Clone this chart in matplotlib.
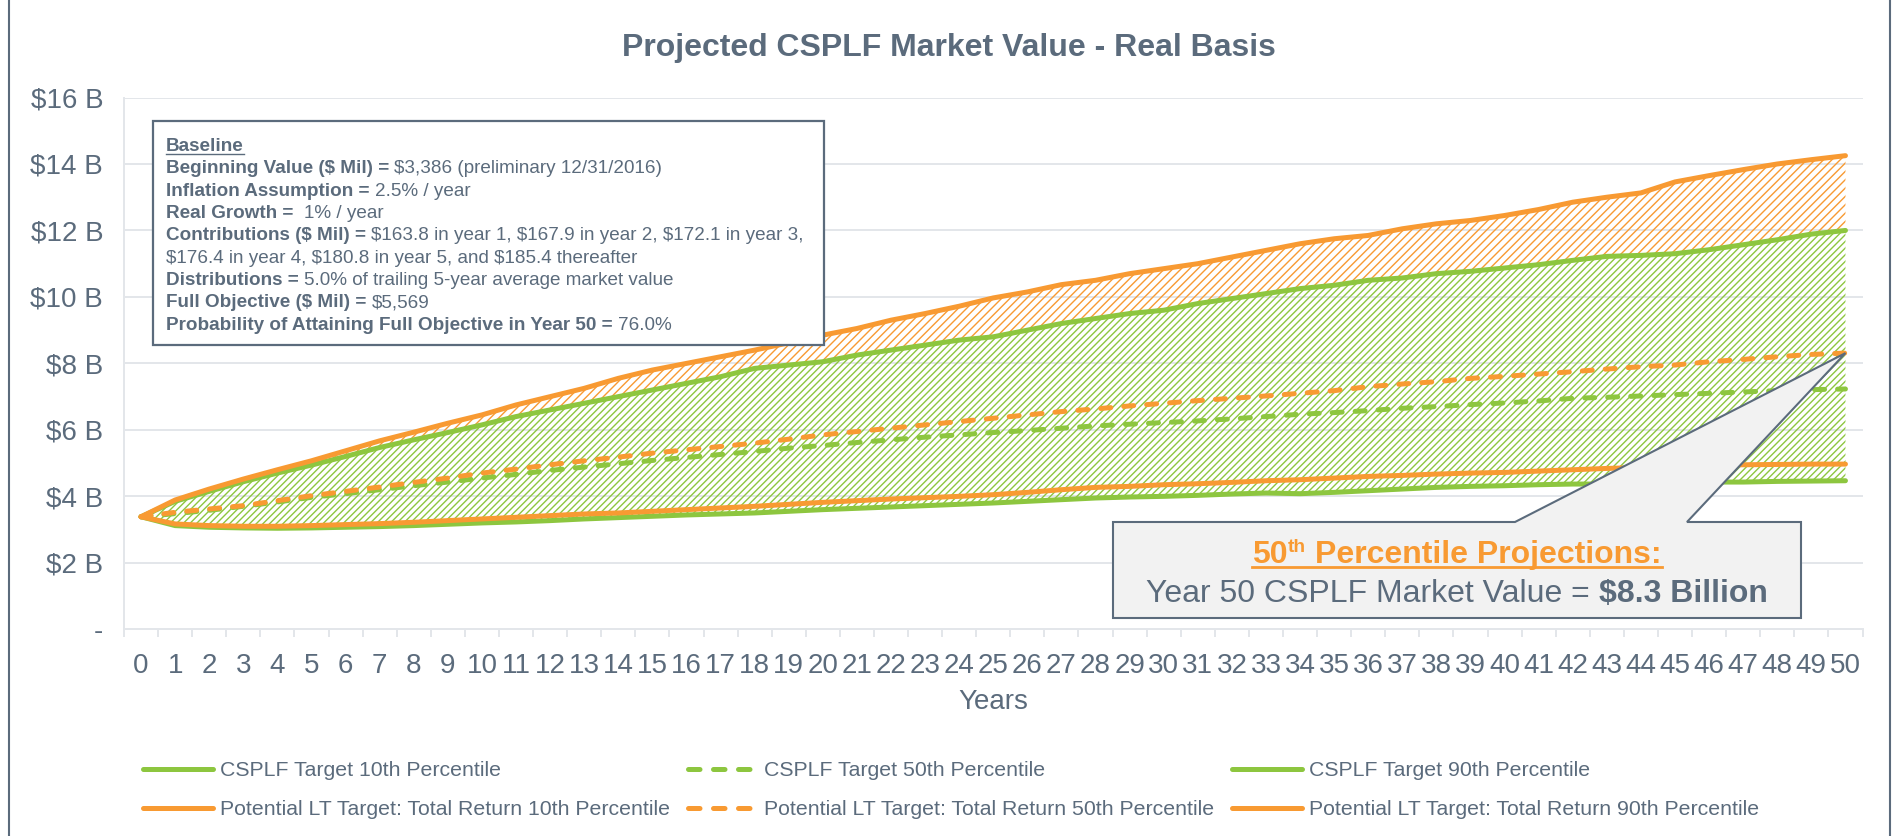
import matplotlib
matplotlib.use('Agg')
import matplotlib.pyplot as plt
from matplotlib.lines import Line2D
from matplotlib.patches import Polygon, Rectangle
from matplotlib.transforms import IdentityTransform

plt.rcParams['font.family'] = ['Liberation Sans', 'DejaVu Sans']
plt.rcParams['hatch.linewidth'] = 1.0

W, H = 1894, 836
SLATE = '#5B6B7C'
GREEN = '#8DC63F'
ORANGE = '#F89A32'
GRID = '#E3E6EA'

# data ($ billions, real basis)
years = list(range(51))
cs_p10 = [3.386, 3.12, 3.07, 3.05, 3.04, 3.05, 3.07, 3.09, 3.12, 3.16,
          3.20, 3.23, 3.27, 3.32, 3.36, 3.40, 3.44, 3.47, 3.50, 3.55,
          3.60, 3.64, 3.68, 3.72, 3.76, 3.80, 3.85, 3.90, 3.95, 3.98,
          4.00, 4.03, 4.07, 4.10, 4.08, 4.12, 4.17, 4.22, 4.27, 4.30,
          4.32, 4.35, 4.37, 4.37, 4.38, 4.42, 4.43, 4.43, 4.45, 4.46, 4.47]
cs_p50 = [3.386, 3.48, 3.58, 3.70, 3.83, 3.97, 4.08, 4.20, 4.32, 4.43,
          4.55, 4.66, 4.78, 4.88, 4.98, 5.08, 5.17, 5.26, 5.35, 5.45,
          5.53, 5.62, 5.70, 5.78, 5.85, 5.92, 5.98, 6.05, 6.12, 6.17,
          6.22, 6.27, 6.33, 6.40, 6.47, 6.52, 6.58, 6.65, 6.70, 6.76,
          6.81, 6.87, 6.95, 6.98, 7.02, 7.06, 7.10, 7.14, 7.18, 7.21, 7.23]
cs_p90 = [3.386, 3.85, 4.15, 4.44, 4.70, 4.94, 5.20, 5.47, 5.70, 5.92,
          6.15, 6.40, 6.60, 6.80, 7.00, 7.20, 7.40, 7.60, 7.85, 7.95,
          8.05, 8.25, 8.40, 8.55, 8.70, 8.80, 9.00, 9.20, 9.35, 9.50,
          9.60, 9.80, 9.95, 10.10, 10.25, 10.35, 10.50, 10.57, 10.70, 10.77,
          10.87, 10.97, 11.10, 11.22, 11.25, 11.30, 11.42, 11.57, 11.72, 11.89, 12.00]
lt_p10 = [3.386, 3.17, 3.12, 3.10, 3.10, 3.12, 3.15, 3.18, 3.22, 3.27,
          3.32, 3.37, 3.42, 3.47, 3.50, 3.55, 3.60, 3.65, 3.70, 3.76,
          3.82, 3.87, 3.92, 3.96, 4.00, 4.05, 4.12, 4.20, 4.27, 4.30,
          4.35, 4.38, 4.42, 4.47, 4.50, 4.55, 4.60, 4.63, 4.67, 4.70,
          4.72, 4.76, 4.80, 4.84, 4.87, 4.92, 4.94, 4.95, 4.96, 4.97, 4.97]
lt_p50 = [3.386, 3.52, 3.62, 3.72, 3.87, 4.02, 4.15, 4.28, 4.42, 4.55,
          4.70, 4.82, 4.95, 5.07, 5.18, 5.30, 5.40, 5.50, 5.60, 5.72,
          5.85, 5.95, 6.05, 6.15, 6.25, 6.35, 6.45, 6.55, 6.63, 6.72,
          6.80, 6.88, 6.95, 7.02, 7.10, 7.18, 7.30, 7.38, 7.45, 7.55,
          7.61, 7.68, 7.75, 7.83, 7.90, 7.95, 8.05, 8.12, 8.20, 8.27, 8.31]
lt_p90 = [3.386, 3.89, 4.22, 4.52, 4.80, 5.07, 5.37, 5.67, 5.93, 6.20,
          6.45, 6.75, 7.00, 7.25, 7.55, 7.80, 8.00, 8.20, 8.40, 8.62,
          8.85, 9.05, 9.30, 9.50, 9.72, 9.97, 10.15, 10.37, 10.50, 10.70,
          10.85, 11.00, 11.20, 11.40, 11.60, 11.75, 11.85, 12.05, 12.20, 12.30,
          12.45, 12.63, 12.85, 13.00, 13.13, 13.46, 13.65, 13.83, 14.00, 14.13, 14.25]

ytick_vals = [0, 2, 4, 6, 8, 10, 12, 14, 16]
ytick_labels = ['-', '$2 B', '$4 B', '$6 B', '$8 B', '$10 B', '$12 B', '$14 B', '$16 B']

labels = ['CSPLF Target 10th Percentile', 'CSPLF Target 50th Percentile',
          'CSPLF Target 90th Percentile',
          'Potential LT Target: Total Return 10th Percentile',
          'Potential LT Target: Total Return 50th Percentile',
          'Potential LT Target: Total Return 90th Percentile']

box_lines = [
    ('Baseline', ''),
    ('Beginning Value ($ Mil) = ', '$3,386 (preliminary 12/31/2016)'),
    ('Inflation Assumption = ', '2.5% / year'),
    ('Real Growth =  ', '1% / year'),
    ('Contributions ($ Mil) = ', '$163.8 in year 1, $167.9 in year 2, $172.1 in year 3,'),
    ('', '$176.4 in year 4, $180.8 in year 5, and $185.4 thereafter'),
    ('Distributions = ', '5.0% of trailing 5-year average market value'),
    ('Full Objective ($ Mil) = ', '$5,569'),
    ('Probability of Attaining Full Objective in Year 50 = ', '76.0%'),
]

fig = plt.figure(figsize=(W / 100, H / 100), dpi=100)
ax = fig.add_axes([124 / W, 1 - 629.3 / H, (1862.5 - 124) / W, (629.3 - 97.5) / H])

# hatched bands
ax.fill_between(years, cs_p10, cs_p90, facecolor='none', edgecolor=GREEN,
                hatch='/////', linewidth=0, zorder=1)
ax.fill_between(years, cs_p90, lt_p90, facecolor='none', edgecolor=ORANGE,
                hatch='////', linewidth=0, zorder=1)

lw = 3.6
dash = (0, (2.0, 2.6))
kw = dict(lw=lw, solid_capstyle='round', dash_capstyle='round', zorder=3)
g10, = ax.plot(years, cs_p10, color=GREEN, **kw)
g50, = ax.plot(years, cs_p50, color=GREEN, linestyle=dash, **kw)
g90, = ax.plot(years, cs_p90, color=GREEN, **kw)
o10, = ax.plot(years, lt_p10, color=ORANGE, **kw)
o50, = ax.plot(years, lt_p50, color=ORANGE, linestyle=dash, **kw)
o90, = ax.plot(years, lt_p90, color=ORANGE, **kw)

ax.set_xlim(-0.5, 50.5)
ax.set_ylim(0, 16)
ax.set_yticks(ytick_vals, ytick_labels)
ax.set_xticks(years, [str(y) for y in years])
ax.set_xticks([y - 0.5 for y in years] + [50.5], minor=True)
ax.tick_params(axis='y', length=0, pad=15, labelsize=20, labelcolor=SLATE)
ax.tick_params(axis='x', which='major', length=0, pad=17, labelsize=20, labelcolor=SLATE)
ax.tick_params(axis='x', which='minor', length=5.5, width=1.4, color=GRID)
ax.yaxis.grid(True, color=GRID, lw=1.4)
ax.set_axisbelow(True)
for s in ['top', 'right']:
    ax.spines[s].set_visible(False)
for s in ['left', 'bottom']:
    ax.spines[s].set_color(GRID)
    ax.spines[s].set_linewidth(1.4)

fig.text(993 / W, 1 - 701.6 / H, 'Years', ha='center', va='center', fontsize=20, color=SLATE)
fig.text(949 / W, 1 - 48 / H, 'Projected CSPLF Market Value - Real Basis', ha='center',
         va='center', fontsize=23, weight='bold', color=SLATE)

# outer frame
fig.add_artist(Line2D([8.5 / W, 8.5 / W], [0, 1], color=SLATE, lw=1.5))
fig.add_artist(Line2D([1890 / W, 1890 / W], [0, 1], color=SLATE, lw=1.5))

# legend (column-major order so rows read left to right)
leg_dash = (0, (2.3, 2.7))
hkw = dict(lw=lw, solid_capstyle='round', dash_capstyle='round')
handles = [g10, o10,
           Line2D([], [], color=GREEN, linestyle=leg_dash, **hkw),
           Line2D([], [], color=ORANGE, linestyle=leg_dash, **hkw),
           g90, o90]
leg_labels = [labels[0], labels[3], labels[1], labels[4], labels[2], labels[5]]
fig.legend(handles, leg_labels, ncol=3, loc='upper left',
           bbox_to_anchor=(143 / W, 1 - 761 / H), frameon=False, fontsize=15.3,
           handlelength=3.3, handletextpad=0.3, columnspacing=0.85, labelspacing=0.94,
           borderpad=0, borderaxespad=0, labelcolor=SLATE)

fig.canvas.draw()
renderer = fig.canvas.get_renderer()
ident = IdentityTransform()


def text_width(s, **tkw):
    t = fig.text(0, 0, s, transform=ident, parse_math=False, **tkw)
    w = t.get_window_extent(renderer).width
    t.remove()
    return w


def run_width(s, **tkw):
    core = s.strip(' ')
    n_sp = len(s) - len(core)
    sp = text_width('x x', **tkw) - text_width('xx', **tkw)
    return (text_width(core, **tkw) if core else 0) + n_sp * sp, sp


def put_runs(x, y, runs):
    # runs: (string, text kwargs, dy); x,y in pixels from top-left
    xx = x
    for s, tkw, dy in runs:
        w, sp = run_width(s, **tkw)
        lead = len(s) - len(s.lstrip(' '))
        core = s.strip(' ')
        if core:
            fig.text(xx + lead * sp, H - y + dy, core, transform=ident, va='baseline',
                     parse_math=False, **tkw)
        xx += w
    return xx


# baseline assumptions box
fig.add_artist(Rectangle((153, H - 345), 824 - 153, 345 - 121, transform=ident,
                         facecolor='white', edgecolor=SLATE, lw=1.6, zorder=5))
bfs = 13.6
for i, (b, n) in enumerate(box_lines):
    yb = 144.4 + 22.3 * i + 6.7
    runs = []
    if b:
        runs.append((b, dict(fontsize=bfs, weight='bold', color=SLATE, zorder=6), 0))
    if n:
        runs.append((n, dict(fontsize=bfs, color=SLATE, zorder=6), 0))
    xe = put_runs(166, yb, runs)
    if i == 0:
        fig.add_artist(Line2D([166, xe], [H - yb - 3, H - yb - 3], transform=ident,
                              color=SLATE, lw=1.0, zorder=6))

# callout
tip = ax.transData.transform((years[-1], lt_p50[-1]))
verts = [(1113, H - 522), (1515, H - 522), (tip[0], tip[1]), (1687, H - 522),
         (1801, H - 522), (1801, H - 618), (1113, H - 618)]
fig.add_artist(Polygon(verts, closed=True, transform=ident, facecolor='#F2F2F2',
                       edgecolor=SLATE, lw=1.5, zorder=7))
cx = (1113 + 1801) / 2
ofs = 23
r1 = [('50', dict(fontsize=ofs, weight='bold', color=ORANGE, zorder=8), 0),
      ('th', dict(fontsize=ofs * 0.6, weight='bold', color=ORANGE, zorder=8), 11),
      (' Percentile Projections:', dict(fontsize=ofs, weight='bold', color=ORANGE, zorder=8), 0)]
w1 = sum(run_width(s, **k)[0] for s, k, _ in r1)
x1 = cx - w1 / 2
xe1 = put_runs(x1, 563, r1)
fig.add_artist(Line2D([x1, xe1], [H - 567, H - 567], transform=ident, color=ORANGE,
                      lw=2.0, zorder=8))
r2 = [('Year 50 CSPLF Market Value = ', dict(fontsize=ofs, color=SLATE, zorder=8), 0),
      ('$8.3 Billion', dict(fontsize=ofs, weight='bold', color=SLATE, zorder=8), 0)]
w2 = sum(run_width(s, **k)[0] for s, k, _ in r2)
put_runs(cx - w2 / 2, 601.7, r2)

fig.savefig('out.png', dpi=100)
